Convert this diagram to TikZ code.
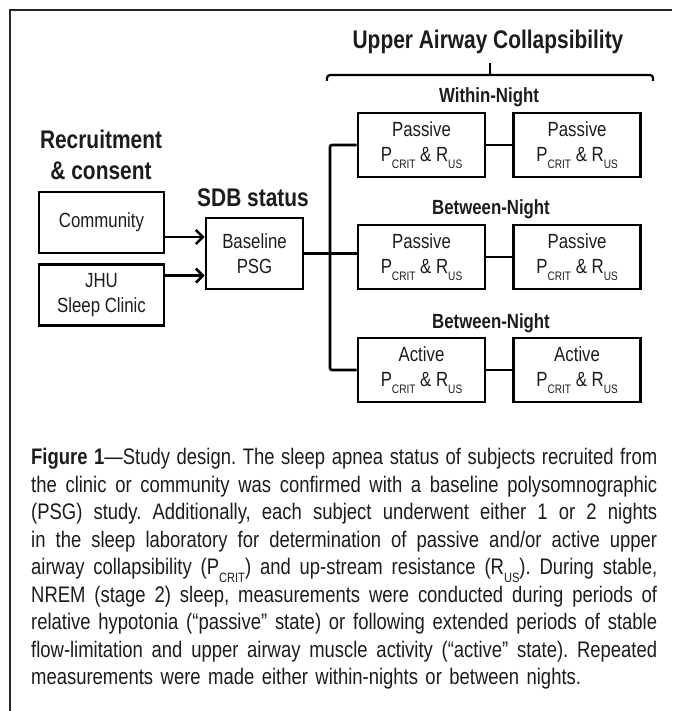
\documentclass[tikz,border=0pt]{standalone}
\usepackage{fontspec}
\setmainfont[FakeStretch=0.82]{Liberation Sans}
\usetikzlibrary{arrows.meta,positioning}

\definecolor{ink}{RGB}{30,27,28}
\newcommand{\boxfont}{\fontsize{20.5}{25}\selectfont}
\newcommand{\headfont}{\bfseries\fontsize{25.5}{31}\selectfont}
\newcommand{\subfont}{\bfseries\fontsize{20.5}{25}\selectfont}
\newcommand{\capfont}{\fontsize{22.5}{27.5}\selectfont\frenchspacing}
\newcommand{\lsub}[1]{\raisebox{-0.34em}{\scalebox{0.6}{#1}}}
\newcommand{\pcrus}{P\lsub{CRIT} \& R\lsub{US}}
% one justified caption line
\newcommand{\jline}[1]{\noindent\hbox to 626pt{\spaceskip=.228em plus 1fil minus .07em\relax #1}\par}

\tikzstyle{stage}=[rectangle,draw=black,line width=2.6pt,align=center,
                   inner sep=0pt,text=ink,font=\boxfont]
\tikzstyle{meas}=[stage,minimum width=127pt,minimum height=64pt]
\tikzstyle{line}=[black,line width=2.6pt]
\tikzstyle{arrow}=[line,-{Straight Barb[length=7pt,width=14pt]}]
\tikzstyle{heading}=[align=center,text=ink,inner sep=0pt,font=\headfont]
\tikzstyle{subhead}=[text=ink,inner sep=0pt,font=\subfont]
\tikzstyle{caption}=[text=ink,inner sep=0pt,text width=626pt,font=\capfont]

\begin{document}
\begin{tikzpicture}[x=1pt,y=-1pt]
  \useasboundingbox (0,0) rectangle (672,711);
  \draw[line width=1.4pt,black!85] (10,711) -- (10,10) -- (672,10);

  % recruitment
  \node[heading] (rec) at (101,155) {Recruitment\\\& consent};
  \node[stage,minimum width=125pt,minimum height=61pt] (comm) at (101.5,222.5) {Community};
  \node[stage,minimum width=125pt,minimum height=61pt] (jhu) [below=9pt of comm] {JHU\\Sleep Clinic};

  % SDB status
  \node[heading] (sdb) at (253,198) {SDB status};
  \node[stage,minimum width=97pt,minimum height=71pt] (base) at (254.5,253.5) {Baseline\\PSG};

  \coordinate (in1) at ([yshift=-14.5pt]comm.east);
  \coordinate (in2) at ([yshift=19.5pt]jhu.east);
  \draw[arrow] (in1) -- (in1 -| base.west);
  \draw[arrow] (in2) -- (in2 -| base.west);

  % upper airway collapsibility
  \node[heading] (title) at (488,42) {Upper Airway Collapsibility};
  \draw[line,line width=2.2pt,rounded corners=3pt] (327,81) |- (653,75) -- (653,81);
  \draw[line,line width=1.6pt] (490,75) -- (490,63);

  \node[subhead] (within) at (489,97) {Within-Night};
  \node[meas] (a1) at (421.5,145) {Passive\\\pcrus};
  \node[meas] (b1) [right=26pt of a1] {Passive\\\pcrus};

  \node[subhead] (between1) at (491,209) {Between-Night};
  \node[meas] (a2) at (421.5,257) {Passive\\\pcrus};
  \node[meas] (b2) [right=26pt of a2] {Passive\\\pcrus};

  \node[subhead] (between2) at (491,323) {Between-Night};
  \node[meas] (a3) at (421.5,370) {Active\\\pcrus};
  \node[meas] (b3) [right=26pt of a3] {Active\\\pcrus};

  \coordinate (trunk) at (330,0);
  \draw[line] (base.east) -- (base.east -| a2.west);
  \draw[line,rounded corners=2pt] (a1.west) -- (a1.west -| trunk) -- (a3.west -| trunk) -- (a3.west);
  \draw[line] (a1.east) -- (b1.west);
  \draw[line] (a2.east) -- (b2.west);
  \draw[line] (a3.east) -- (b3.west);

  % caption
  \node[caption,anchor=north west] (cap) at (31,448) {%
    \jline{\textbf{Figure 1}---Study design. The sleep apnea status of subjects recruited from}
    \jline{the clinic or community was confirmed with a baseline polysomnographic}
    \jline{(PSG) study. Additionally, each subject underwent either 1 or 2 nights}
    \jline{in the sleep laboratory for determination of passive and/or active upper}
    \jline{airway collapsibility (P\lsub{CRIT}) and up-stream resistance (R\lsub{US}). During stable,}
    \jline{NREM (stage 2) sleep, measurements were conducted during periods of}
    \jline{relative hypotonia (“passive” state) or following extended periods of stable}
    \jline{flow-limitation and upper airway muscle activity (“active” state). Repeated}
    \noindent measurements were made either within-nights or between nights.};
\end{tikzpicture}
\end{document}
